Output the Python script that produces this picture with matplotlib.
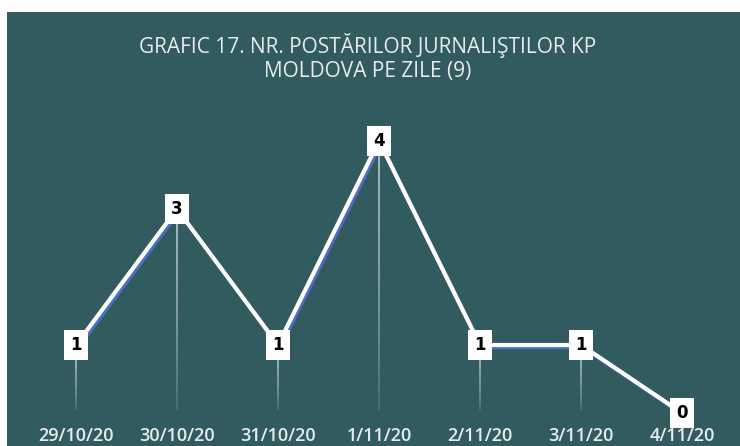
import matplotlib.pyplot as plt
import numpy as np
from matplotlib.collections import LineCollection
from matplotlib.patches import Rectangle
import matplotlib.transforms as mtransforms

dates = ["29/10/20", "30/10/20", "31/10/20", "1/11/20", "2/11/20", "3/11/20", "4/11/20"]
posts = [1, 3, 1, 4, 1, 1, 0]

BG = "#325b5f"
TEXT = "#e6ecec"

fig = plt.figure(figsize=(7.4, 4.46), dpi=100)
fig.patch.set_facecolor("white")
# dark panel (white strip at top and left as in the source screenshot)
fig.patches.append(Rectangle((7 / 740, 0), 1, (446 - 12) / 446, transform=fig.transFigure,
                             facecolor=BG, edgecolor="none", zorder=-5))

ax = fig.add_axes([25.5 / 740, 33 / 446, 707 / 740, 306 / 446])
ax.set_facecolor("none")
x = np.arange(len(dates))

# fading drop lines
segs, cols = [], []
for xi, v in zip(x, posts):
    ys = np.linspace(v, 0.05, 40)
    for k in range(len(ys) - 1):
        segs.append([(xi, ys[k]), (xi, ys[k + 1])])
        a = 0.8 * (1 - k / (len(ys) - 1)) ** 0.7 + 0.1
        cols.append((0.85, 0.9, 0.92, a))
ax.add_collection(LineCollection(segs, colors=cols, linewidths=1.1, zorder=1))

# blue shadow line, offset down-right
shadow = mtransforms.offset_copy(ax.transData, fig=fig, x=2.0, y=-2.6, units="dots")
ax.plot(x, posts, color="#4a6fc4", lw=2.6, transform=shadow, zorder=2,
        solid_capstyle="butt")
ax.plot(x, posts, color="white", lw=3.0, zorder=3, solid_joinstyle="miter")

for xi, v in zip(x, posts):
    ax.text(xi, v, str(v), ha="center", va="center", fontsize=12, fontweight="bold",
            color="black", family="DejaVu Sans", zorder=5, clip_on=False,
            bbox=dict(boxstyle="square,pad=0.38", fc="white", ec="none"))

ax.set_xlim(-0.5, 6.5)
ax.set_ylim(0, 4.5)
ax.set_xticks(x)
ax.set_xticklabels(dates, fontsize=13, fontweight="semibold", color=TEXT, family="Open Sans")
ax.tick_params(axis="x", length=0, pad=10)
ax.set_yticks([])
for s in ax.spines.values():
    s.set_visible(False)

fig.text(368 / 740, 1 - 45 / 446, "GRAFIC 17. NR. POSTĂRILOR JURNALIŞTILOR KP",
         ha="center", va="center", fontsize=15, color=TEXT, family="Open Sans")
fig.text(368 / 740, 1 - 71 / 446, "MOLDOVA PE ZILE (9)",
         ha="center", va="center", fontsize=15, color=TEXT, family="Open Sans")

fig.savefig("out.png", dpi=100, facecolor=fig.get_facecolor())
